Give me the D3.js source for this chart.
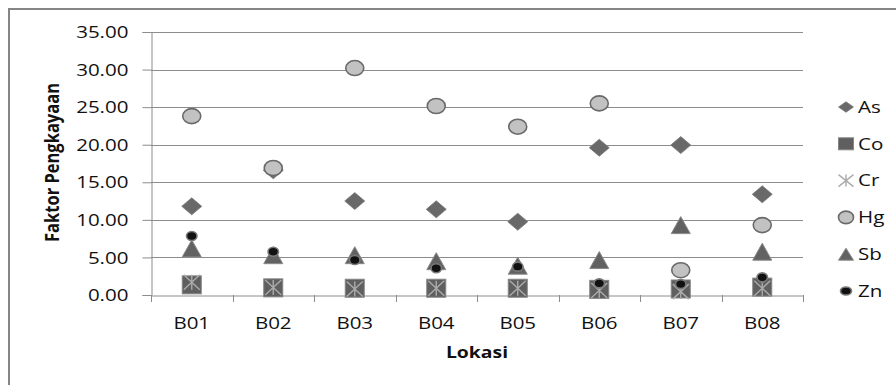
<!DOCTYPE html>
<html>
<head>
<meta charset="utf-8">
<script src="https://cdn.jsdelivr.net/npm/d3@7/dist/d3.min.js"></script>
<style>
  html, body { margin: 0; padding: 0; background: #fff; }
  svg { display: block; }
  text { font-family: "Open Sans", "Liberation Sans", sans-serif; fill: #111; }
</style>
</head>
<body>
<svg id="chart" width="896" height="385"></svg>
<script>
// Locations and enrichment factors per element
const locations = ["B01", "B02", "B03", "B04", "B05", "B06", "B07", "B08"];
const asValues = [11.8, 16.6, 12.5, 11.4, 9.75, 19.6, 19.95, 13.4];
const coValues = [1.35, 0.95, 0.9, 0.9, 0.9, 0.75, 0.8, 1.05];
const crValues = [1.7, 1.0, 0.8, 0.9, 0.9, 0.6, 0.45, 0.9];
const hgValues = [23.8, 16.9, 30.2, 25.15, 22.4, 25.5, 3.3, 9.3];
const sbValues = [6.2, 5.3, 5.3, 4.5, 3.9, 4.65, 9.3, 5.76];
const znValues = [7.85, 5.76, 4.65, 3.55, 3.77, 1.55, 1.45, 2.35];
const yTicks = [0, 5, 10, 15, 20, 25, 30, 35];

const seriesNames = ["As", "Co", "Cr", "Hg", "Sb", "Zn"];
const seriesValues = [asValues, coValues, crValues, hgValues, sbValues, znValues];

const svg = d3.select("#chart");
const plot = { left: 151, right: 803, top: 32, bottom: 295 };
const sx = 1.3; // glyph horizontal stretch

const x = d3.scaleBand().domain(locations).range([plot.left, plot.right]).padding(0);
const y = d3.scaleLinear().domain([0, 35]).range([plot.bottom, plot.top]);

// chart frame (left and top edges visible)
svg.append("rect")
  .attr("x", 9).attr("y", 9).attr("width", 900).attr("height", 400)
  .attr("fill", "none").attr("stroke", "#858585").attr("stroke-width", 2);

// horizontal gridlines
svg.append("g").selectAll("line")
  .data(yTicks.filter(d => d > 0))
  .join("line")
  .attr("x1", plot.left).attr("x2", plot.right)
  .attr("y1", d => Math.round(y(d)) + 0.5).attr("y2", d => Math.round(y(d)) + 0.5)
  .attr("stroke", "#8c8c8c").attr("stroke-width", 1);

// y axis
const yAxis = svg.append("g")
  .attr("transform", `translate(${plot.left + 0.5},0)`)
  .call(d3.axisLeft(y).tickValues(yTicks).tickSize(9).tickFormat(d3.format(".2f")));
yAxis.select(".domain").attr("stroke", "#8c8c8c");
yAxis.selectAll(".tick line").attr("stroke", "#8c8c8c");
yAxis.selectAll(".tick text")
  .attr("x", null).attr("dy", null)
  .attr("font-size", 15.8)
  .attr("font-family", null)
  .attr("fill", "#111")
  .attr("text-anchor", "end")
  .attr("transform", `translate(-23,5.7) scale(${sx},1)`);

// x axis
const xAxis = svg.append("g")
  .attr("transform", `translate(0,${plot.bottom + 0.5})`)
  .call(d3.axisBottom(x).tickSize(0).tickSizeOuter(0));
xAxis.select(".domain").attr("stroke", "#8c8c8c");
xAxis.selectAll(".tick text")
  .attr("y", null).attr("dy", null)
  .attr("font-size", 15.8)
  .attr("font-family", null)
  .attr("fill", "#111")
  .attr("text-anchor", "middle")
  .attr("transform", `translate(0,33) scale(${sx},1)`);
// category boundary ticks
const bounds = locations.map(d => x(d)).concat([x.range()[1]]);
svg.append("g").selectAll("line")
  .data(bounds)
  .join("line")
  .attr("x1", d => Math.round(d) + 0.5).attr("x2", d => Math.round(d) + 0.5)
  .attr("y1", plot.bottom).attr("y2", plot.bottom + 7)
  .attr("stroke", "#8c8c8c");

// axis titles
svg.append("text")
  .attr("transform", `translate(477,358) scale(1.25,1)`)
  .attr("text-anchor", "middle")
  .attr("font-size", 15.5)
  .attr("font-weight", "bold")
  .text("Lokasi");

svg.append("text")
  .attr("transform", `translate(59,162.5) rotate(-90) scale(1,1.3)`)
  .attr("text-anchor", "middle")
  .attr("font-size", 15.5)
  .attr("font-weight", "bold")
  .attr("textLength", 159)
  .attr("lengthAdjust", "spacingAndGlyphs")
  .text("Faktor Pengkayaan");

// marker painters: (group, cx, cy, width, height)
const markers = {
  As: (g, cx, cy, w, h) => g.append("path")
    .attr("d", `M${cx},${cy - h / 2}L${cx + w / 2},${cy}L${cx},${cy + h / 2}L${cx - w / 2},${cy}Z`)
    .attr("fill", "#696969").attr("stroke", "#7a7a7a").attr("stroke-width", 0.8),
  Co: (g, cx, cy, w, h) => g.append("rect")
    .attr("x", cx - w / 2).attr("y", cy - h / 2).attr("width", w).attr("height", h)
    .attr("fill", "#5f5f5f").attr("stroke", "#858585").attr("stroke-width", 1),
  Cr: (g, cx, cy, w, h) => g.append("path")
    .attr("d", `M${cx - w / 2},${cy - h / 2}L${cx + w / 2},${cy + h / 2}M${cx + w / 2},${cy - h / 2}L${cx - w / 2},${cy + h / 2}M${cx},${cy - h / 2}L${cx},${cy + h / 2}`)
    .attr("fill", "none").attr("stroke", "#ababab").attr("stroke-width", 1.4),
  Hg: (g, cx, cy, w, h) => g.append("ellipse")
    .attr("cx", cx).attr("cy", cy).attr("rx", w / 2).attr("ry", h / 2)
    .attr("fill", "#c2c2c2").attr("stroke", "#6a6a6a").attr("stroke-width", 1.6),
  Sb: (g, cx, cy, w, h) => g.append("path")
    .attr("d", `M${cx},${cy - h / 2}L${cx + w / 2},${cy + h / 2}L${cx - w / 2},${cy + h / 2}Z`)
    .attr("fill", "#626262").attr("stroke", "#8a8a8a").attr("stroke-width", 1),
  Zn: (g, cx, cy, w, h) => g.append("ellipse")
    .attr("cx", cx).attr("cy", cy).attr("rx", w / 2).attr("ry", h / 2)
    .attr("fill", "#111").attr("stroke", "#7a7a7a").attr("stroke-width", 1.6)
};
const plotSize = { As: [20, 17], Co: [19, 18], Cr: [16, 15], Hg: [18, 15], Sb: [19, 17], Zn: [10.5, 9] };
const legendSize = { As: [15, 10.5], Co: [15, 12], Cr: [15, 12], Hg: [15, 12.5], Sb: [15, 12], Zn: [11, 8] };

// data points, series drawn in order so later ones sit on top
const pts = svg.append("g");
seriesNames.forEach((name, i) => {
  const g = pts.append("g").attr("class", "series-" + name);
  seriesValues[i].forEach((v, j) => {
    const cx = x(locations[j]) + x.bandwidth() / 2;
    const [w, h] = plotSize[name];
    markers[name](g, cx, y(v), w, h);
  });
});

// legend
const legend = svg.append("g");
const legendY = d3.scalePoint().domain(seriesNames).range([107, 291]);
seriesNames.forEach(name => {
  const cy = legendY(name);
  const [w, h] = legendSize[name];
  markers[name](legend, 846, cy, w, h);
  legend.append("text")
    .attr("transform", `translate(858,${cy + 5.7}) scale(${sx},1)`)
    .attr("font-size", 15.8)
    .text(name);
});
</script>
</body>
</html>
